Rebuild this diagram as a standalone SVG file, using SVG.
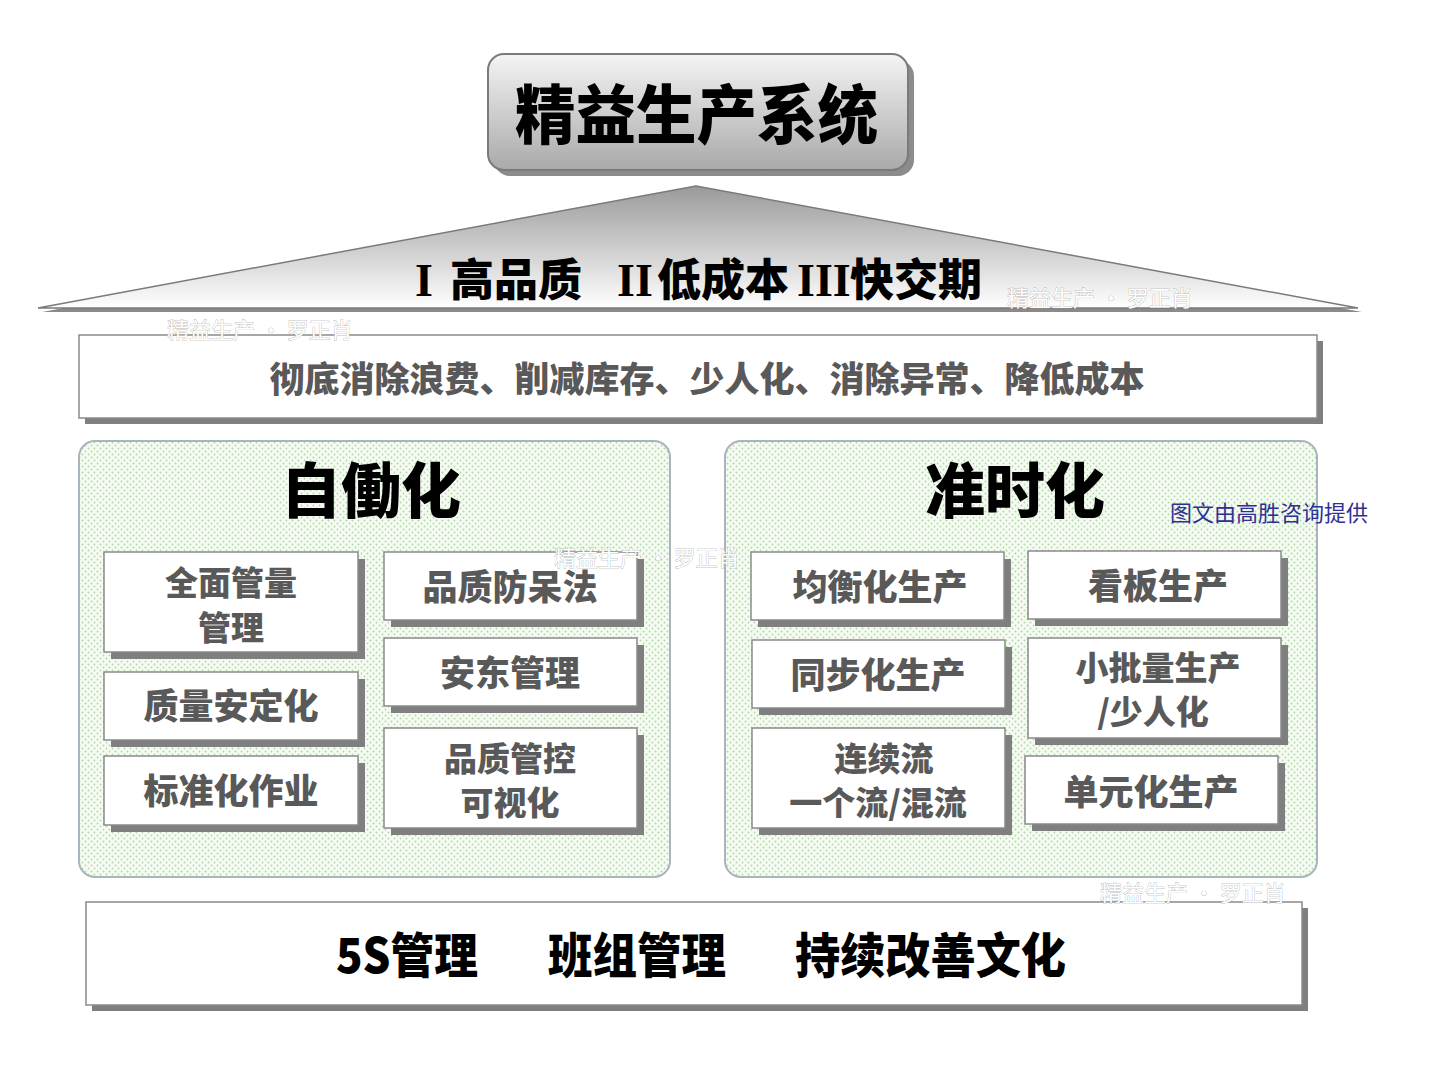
<svg xmlns="http://www.w3.org/2000/svg" width="1443" height="1080" viewBox="0 0 1443 1080">
<defs>
<linearGradient id="gTitle" x1="0" y1="0" x2="0" y2="1">
<stop offset="0" stop-color="#f4f4f4"/><stop offset="1" stop-color="#a9a9a9"/>
</linearGradient>
<linearGradient id="gRoof" x1="0" y1="0" x2="0" y2="1">
<stop offset="0" stop-color="#9a9a9a"/><stop offset="1" stop-color="#ffffff"/>
</linearGradient>
<pattern id="dots" width="6" height="6" patternUnits="userSpaceOnUse">
<rect width="6" height="6" fill="#f6faf3"/>
<circle cx="1.5" cy="1.5" r="0.9" fill="#a9dca0"/>
<circle cx="4.5" cy="4.5" r="0.9" fill="#a9dca0"/>
</pattern>
<style>
.heavy{font-family:"Noto Sans CJK SC","Noto Sans",sans-serif;font-weight:900;fill:#000;text-anchor:middle}
.hs{font-family:"Noto Sans CJK SC","Noto Sans",sans-serif;font-weight:900;fill:#000}
.rn{font-family:"Liberation Serif",serif;font-weight:bold}
.item{font-family:"Noto Sans CJK SC","Noto Sans",sans-serif;font-weight:900;fill:#595959;text-anchor:middle;font-size:35px}
.item2{font-family:"Noto Sans CJK SC","Noto Sans",sans-serif;font-weight:900;fill:#595959;text-anchor:middle;font-size:33px}
.box{fill:#fff;stroke:#8a8a8a;stroke-width:1.5}
.shadow{fill:#7f7f7f}
.panel{fill:url(#dots);stroke:#aab4bc;stroke-width:2}
.wm{font-family:"Noto Sans CJK SC",sans-serif;font-size:22px;fill:#fff;stroke:#a0a0a0;stroke-width:0.6;paint-order:stroke}
</style>
</defs>
<rect width="1443" height="1080" fill="#fff"/>

<g id="title">
<rect x="494" y="60" width="420" height="116" rx="16" fill="#8c8c8c"/>
<rect x="488" y="54" width="420" height="116" rx="16" fill="url(#gTitle)" stroke="#7a7a7a" stroke-width="2"/>
<text class="hs" x="515" y="138" font-size="64" textLength="363" lengthAdjust="spacingAndGlyphs">精益生产系统</text>
</g>

<g id="roof">
<polygon points="699,190 42,312 1362,312" fill="#8a8a8a"/>
<polygon points="696,186 38,308 1358,308" fill="url(#gRoof)" stroke="#7a7a7a" stroke-width="1.5"/>
<text class="hs" y="296" font-size="44"><tspan class="rn" x="415" font-size="46">I</tspan><tspan x="450">高品质</tspan><tspan class="rn" x="617" font-size="46">II</tspan><tspan x="657">低成本</tspan><tspan class="rn" x="797" font-size="46">III</tspan><tspan x="850">快交期</tspan></text>
</g>

<g id="goal">
<rect x="85" y="341" width="1238" height="83" class="shadow"/>
<rect x="79" y="335" width="1238" height="83" class="box"/>
<text class="item" x="707" y="392" font-size="37">彻底消除浪费、削减库存、少人化、消除异常、降低成本</text>
</g>

<g id="jidoka">
<rect x="79" y="441" width="591" height="436" rx="16" class="panel"/>
<text class="heavy" x="371" y="513" font-size="60">自働化</text>
</g>
<g id="jit">
<rect x="725" y="441" width="592" height="436" rx="16" class="panel"/>
<text class="heavy" x="1015" y="513" font-size="60">准时化</text>
</g>

<g id="n1"><rect x="111" y="559" width="254" height="100" class="shadow"/><rect x="104" y="552" width="254" height="100" class="box"/>
<text class="item2" x="231" y="595">全面管量</text><text class="item2" x="231" y="640">管理</text></g>
<g id="n2"><rect x="111" y="679" width="254" height="68" class="shadow"/><rect x="104" y="672" width="254" height="68" class="box"/>
<text class="item" x="231" y="719">质量安定化</text></g>
<g id="n3"><rect x="111" y="763" width="254" height="69" class="shadow"/><rect x="104" y="756" width="254" height="69" class="box"/>
<text class="item" x="231" y="804">标准化作业</text></g>
<g id="n4"><rect x="391" y="559" width="253" height="68" class="shadow"/><rect x="384" y="552" width="253" height="68" class="box"/>
<text class="item" x="510" y="600">品质防呆法</text></g>
<g id="n5"><rect x="391" y="645" width="253" height="68" class="shadow"/><rect x="384" y="638" width="253" height="68" class="box"/>
<text class="item" x="510" y="686">安东管理</text></g>
<g id="n6"><rect x="391" y="735" width="253" height="100" class="shadow"/><rect x="384" y="728" width="253" height="100" class="box"/>
<text class="item2" x="510" y="771">品质管控</text><text class="item2" x="510" y="815">可视化</text></g>

<g id="n7"><rect x="758" y="559" width="253" height="68" class="shadow"/><rect x="751" y="552" width="253" height="68" class="box"/>
<text class="item" x="880" y="600">均衡化生产</text></g>
<g id="n8"><rect x="1035" y="558" width="253" height="68" class="shadow"/><rect x="1028" y="551" width="253" height="68" class="box"/>
<text class="item" x="1158" y="599">看板生产</text></g>
<g id="n9"><rect x="759" y="647" width="253" height="68" class="shadow"/><rect x="752" y="640" width="253" height="68" class="box"/>
<text class="item" x="878" y="688">同步化生产</text></g>
<g id="n10"><rect x="1035" y="645" width="253" height="100" class="shadow"/><rect x="1028" y="638" width="253" height="100" class="box"/>
<text class="item2" x="1158" y="680">小批量生产</text><text class="item2" x="1153" y="724">/少人化</text></g>
<g id="n11"><rect x="759" y="735" width="253" height="100" class="shadow"/><rect x="752" y="728" width="253" height="100" class="box"/>
<text class="item2" x="884" y="771">连续流</text><text class="item2" x="878" y="815">一个流/混流</text></g>
<g id="n12"><rect x="1032" y="763" width="253" height="68" class="shadow"/><rect x="1025" y="756" width="253" height="68" class="box"/>
<text class="item" x="1151" y="805">单元化生产</text></g>

<g id="base">
<rect x="92" y="908" width="1216" height="103" class="shadow"/>
<rect x="86" y="902" width="1216" height="103" class="box"/>
<text class="hs" x="336" y="973" font-size="48" textLength="142" lengthAdjust="spacingAndGlyphs">5S管理</text>
<text class="hs" x="548" y="973" font-size="48" textLength="178" lengthAdjust="spacingAndGlyphs">班组管理</text>
<text class="hs" x="795" y="973" font-size="48" textLength="271" lengthAdjust="spacingAndGlyphs">持续改善文化</text>
</g>

<g id="connectors"></g>

<g id="watermarks">
<text class="wm" x="1007" y="306">精益生产 · 罗正肖</text>
<text class="wm" x="167" y="338">精益生产 · 罗正肖</text>
<text class="wm" x="554" y="566">精益生产 · 罗正肖</text>
<text class="wm" x="1100" y="901">精益生产 · 罗正肖</text>
<text x="1170" y="521" font-family="Noto Sans CJK SC,sans-serif" font-size="22" fill="#2e3192">图文由高胜咨询提供</text>
</g>
</svg>
